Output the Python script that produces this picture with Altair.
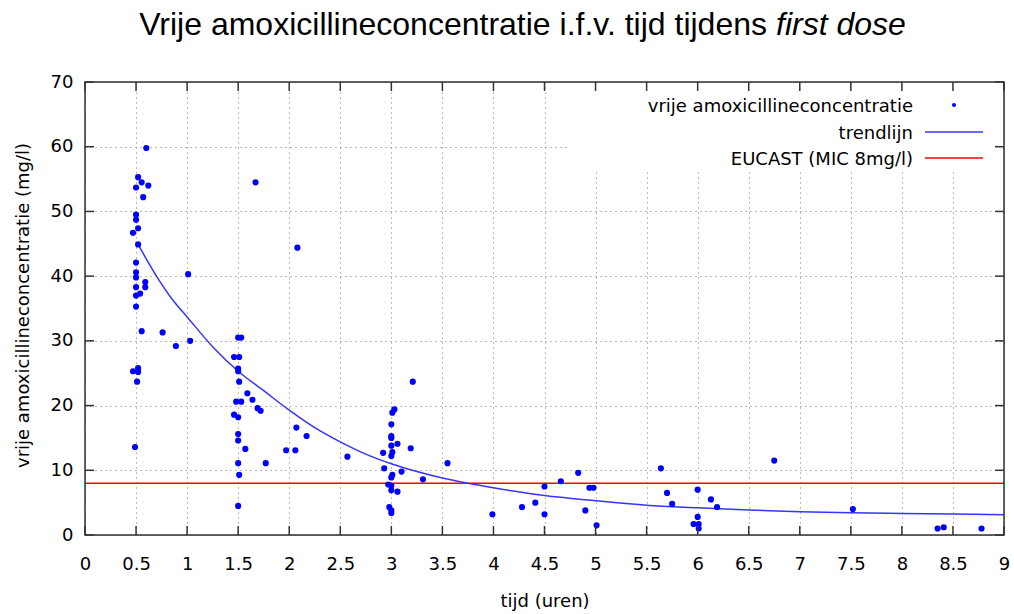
import altair as alt
import pandas as pd

# ---- data ----
tijd = [0.60, 0.52, 0.555, 0.50, 0.62, 0.57, 1.67, 0.50, 0.50, 0.52,
        0.47, 0.52, 2.08, 0.50, 0.50, 0.50, 0.59, 0.59, 0.50, 0.50,
        0.54, 1.01, 0.50, 0.555, 0.76, 0.89, 1.03, 0.47, 0.52, 0.52,
        0.51, 0.49, 1.50, 1.53, 1.46, 1.51, 1.50, 1.50, 1.51, 1.59,
        1.64, 1.48, 1.53, 1.69, 1.72, 1.46, 1.50, 1.50, 1.50, 1.57,
        1.50, 1.77, 1.51, 1.50, 2.07, 2.17, 1.97, 2.06, 3.21, 3.03,
        3.01, 3.00, 3.00, 3.00, 3.06, 3.00, 3.01, 3.00, 2.92, 3.19,
        2.57, 2.93, 3.10, 3.01, 3.00, 3.31, 3.55, 2.97, 3.00, 3.00,
        3.06, 2.98, 3.00, 3.00, 3.99, 4.28, 4.41, 4.50, 4.50, 4.66,
        4.83, 4.94, 4.98, 4.90, 5.01, 5.64, 6.75, 5.70, 5.75, 6.00,
        6.13, 6.19, 6.00, 5.96, 6.01, 6.01, 7.52, 8.35, 8.41, 8.78]
conc = [59.8, 55.3, 54.5, 53.7, 54.0, 52.2, 54.5, 49.5, 48.7, 47.4,
        46.7, 44.9, 44.4, 42.1, 40.6, 39.8, 39.1, 38.3, 38.3, 37.0,
        37.3, 40.3, 35.3, 31.5, 31.3, 29.2, 30.0, 25.3, 25.8, 25.2,
        23.7, 13.6, 30.5, 30.5, 27.5, 27.5, 25.7, 25.3, 23.7, 21.9,
        20.9, 20.6, 20.6, 19.6, 19.2, 18.6, 18.2, 15.6, 14.6, 13.3,
        11.1, 11.1, 9.3, 4.5, 16.6, 15.3, 13.1, 13.1, 23.7, 19.4,
        18.9, 17.1, 15.3, 15.0, 14.1, 13.8, 12.8, 12.2, 12.7, 13.4,
        12.1, 10.3, 9.8, 9.3, 8.9, 8.6, 11.1, 7.8, 7.6, 6.9,
        6.7, 4.3, 3.8, 3.4, 3.2, 4.3, 5.0, 7.5, 3.2, 8.3,
        9.6, 7.3, 7.3, 3.8, 1.5, 10.3, 11.5, 6.5, 4.8, 7.0,
        5.5, 4.3, 2.8, 1.7, 1.7, 1.0, 4.0, 1.0, 1.2, 1.0]

trend_tijd = [0.52, 0.70, 0.85, 1.0, 1.25, 1.5, 1.75, 2.0, 2.25, 2.5,
              2.75, 3.0, 3.25, 3.5, 3.75, 4.0, 4.5, 5.0, 5.5, 6.0,
              6.5, 7.0, 7.5, 8.0, 8.5, 9.0]
trend_conc = [44.9, 40.0, 36.5, 33.7, 29.1, 25.3, 22.3, 19.3, 16.6, 14.4,
              12.5, 11.0, 9.8, 8.8, 8.0, 7.3, 6.1, 5.3, 4.6, 4.2,
              3.85, 3.6, 3.45, 3.33, 3.24, 3.13]

mic = [8]

x_ticks = [0, 0.5, 1, 1.5, 2, 2.5, 3, 3.5, 4, 4.5, 5, 5.5, 6, 6.5, 7, 7.5, 8, 8.5, 9]
y_ticks = [0, 10, 20, 30, 40, 50, 60, 70]

title_regular = "Vrije amoxicillineconcentratie i.f.v. tijd tijdens"
title_italic = "first dose"
x_title = "tijd (uren)"
y_title = "vrije amoxicillineconcentratie (mg/l)"
legend_labels = ["vrije amoxicillineconcentratie", "trendlijn", "EUCAST (MIC 8mg/l)"]

# ---- layout / style ----
W, H = 919, 453
FONT = "DejaVu Sans"
TFONT = "Liberation Sans"
BORDER = "#333333"
GRID = "#777777"

pts = pd.DataFrame({"x": tijd, "y": conc})
trend = pd.DataFrame({"x": trend_tijd, "y": trend_conc})
mic_df = pd.DataFrame({"y": mic})
xt = pd.DataFrame({"x": x_ticks})
yt = pd.DataFrame({"y": y_ticks})
one = pd.DataFrame({"k": [0]})

xaxis = alt.Axis(values=x_ticks, format="~g", title=x_title, grid=True,
                 gridDash=[1, 4], gridColor=GRID, gridWidth=1,
                 domain=False, ticks=False, tickSize=0, labelPadding=20,
                 labelFont=FONT, labelFontSize=18, labelColor="#000000",
                 labelFlush=False, labelOverlap=False,
                 titleFont=FONT, titleFontSize=18, titleFontWeight="normal",
                 titleColor="#000000", titleX=W / 2, titleY=66,
                 titleAlign="center", titleBaseline="middle", zindex=0)
yaxis = alt.Axis(values=y_ticks, format="d", title=y_title, grid=True,
                 gridDash=[1, 4], gridColor=GRID, gridWidth=1,
                 domain=False, ticks=False, tickSize=0, labelPadding=12,
                 labelFont=FONT, labelFontSize=18, labelColor="#000000",
                 labelFlush=False, labelOverlap=False,
                 titleFont=FONT, titleFontSize=18, titleFontWeight="normal",
                 titleColor="#000000", titleX=-62, titleY=223, titleAngle=270,
                 titleAlign="center", titleBaseline="middle", zindex=0)

X = alt.X("x:Q", scale=alt.Scale(domain=[0, 9], nice=False, zero=False), axis=xaxis)
Y = alt.Y("y:Q", scale=alt.Scale(domain=[0, 70], nice=False, zero=False), axis=yaxis)

legend_bg = alt.Chart(one).mark_rect(color="white").encode(
    x=alt.value(482), x2=alt.value(917), y=alt.value(1), y2=alt.value(90))

mic_rule = alt.Chart(mic_df).mark_rule(color="#ff0000", strokeWidth=1.6).encode(y=Y)

trend_line = alt.Chart(trend).mark_line(color="#3535ff", strokeWidth=1.5,
                                        interpolate="monotone").encode(x=X, y=Y)

points = alt.Chart(pts).mark_circle(size=38, color="#0000ff", opacity=1).encode(x=X, y=Y)

tick_b = alt.Chart(xt).mark_rule(color=BORDER, strokeWidth=1.5).encode(
    x=X, y=alt.value(H), y2=alt.value(H - 9))
tick_t = alt.Chart(xt).mark_rule(color=BORDER, strokeWidth=1.5).encode(
    x=X, y=alt.value(0), y2=alt.value(9))
tick_l = alt.Chart(yt).mark_rule(color=BORDER, strokeWidth=1.5).encode(
    y=Y, x=alt.value(0), x2=alt.value(9))
tick_r = alt.Chart(yt).mark_rule(color=BORDER, strokeWidth=1.5).encode(
    y=Y, x=alt.value(W), x2=alt.value(W - 9))

border = alt.Chart(one).mark_rect(fillOpacity=0, stroke=BORDER, strokeWidth=1.5).encode(
    x=alt.value(0), x2=alt.value(W), y=alt.value(0), y2=alt.value(H))

LX = 828
rows = [23, 50, 76]
leg_texts = [
    alt.Chart(one).mark_text(align="right", baseline="alphabetic", font=FONT,
                             fontSize=18, color="#000000").encode(
        x=alt.value(LX), y=alt.value(r + 7), text=alt.value(lbl))
    for lbl, r in zip(legend_labels, rows)
]
leg_dot = alt.Chart(one).mark_circle(size=16, color="#0000ff", opacity=1).encode(
    x=alt.value(869), y=alt.value(rows[0]))
leg_blue = alt.Chart(one).mark_rule(color="#3535ff", strokeWidth=1.5).encode(
    x=alt.value(840), x2=alt.value(898), y=alt.value(rows[1]))
leg_red = alt.Chart(one).mark_rule(color="#ff0000", strokeWidth=1.6).encode(
    x=alt.value(840), x2=alt.value(898), y=alt.value(rows[2]))

title_a = alt.Chart(one).mark_text(align="right", baseline="alphabetic", font=TFONT,
                                   fontSize=32, color="#000000").encode(
    x=alt.value(682), y=alt.value(-47), text=alt.value(title_regular))
title_b = alt.Chart(one).mark_text(align="left", baseline="alphabetic", font=TFONT,
                                   fontSize=32, fontStyle="italic", color="#000000").encode(
    x=alt.value(691), y=alt.value(-47), text=alt.value(title_italic))

chart = alt.layer(
    legend_bg, mic_rule, trend_line, points,
    tick_b, tick_t, tick_l, tick_r, border,
    *leg_texts, leg_dot, leg_blue, leg_red,
    title_a, title_b,
).properties(
    width=W, height=H,
    padding={"left": 85, "top": 82, "right": 10, "bottom": 79},
    autosize=alt.AutoSizeParams(type="none"),
).configure_view(stroke=None).configure(background="white")

chart.save("out.html", embed_options={"renderer": "svg", "actions": False})
